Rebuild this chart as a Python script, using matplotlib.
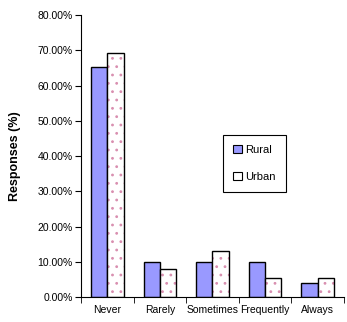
import numpy as np
import matplotlib.pyplot as plt
from matplotlib.ticker import FixedLocator, PercentFormatter

plt.rcParams['font.family'] = ['Liberation Sans', 'DejaVu Sans']
plt.rcParams['hatch.linewidth'] = 0.8

categories = ['Never', 'Rarely', 'Sometimes', 'Frequently', 'Always']
rural = [65.2, 10.0, 10.0, 10.0, 3.9]
urban = [69.3, 7.9, 13.0, 5.3, 5.3]

fig = plt.figure(figsize=(3.47, 3.22), dpi=100)
ax = fig.add_axes([0.2334, 0.0776, 0.7576, 0.8758])

x = np.arange(len(categories))
w = 0.31
ax.bar(x - w / 2, rural, w, color='#9999ff', edgecolor='black', linewidth=1.0, label='Rural')
# dotted fill first (hatch takes the edge colour), then the black outline on top
ax.bar(x + w / 2, urban, w, color='white', edgecolor='#d98fb0', linewidth=0, hatch='..')
ax.bar(x + w / 2, urban, w, fill=False, edgecolor='black', linewidth=1.0)

ax.set_xlim(-0.5, len(categories) - 0.5)
ax.set_ylim(0, 80)
ax.yaxis.set_major_locator(FixedLocator(np.arange(0, 81, 10)))
ax.yaxis.set_major_formatter(PercentFormatter(decimals=2))
ax.set_xticks(x)
ax.set_xticklabels(categories)
ax.xaxis.set_minor_locator(FixedLocator(np.arange(-0.5, len(categories), 1.0)))
ax.tick_params(axis='x', which='major', length=0, labelsize=7.5, pad=6)
ax.tick_params(axis='x', which='minor', length=4, direction='out')
ax.tick_params(axis='y', length=4, labelsize=7.5, pad=2)

ax.spines['top'].set_visible(False)
ax.spines['right'].set_visible(False)

ax.set_ylabel('Responses (%)', fontsize=9, fontweight='bold', labelpad=12)

# legend handles built from the same bar styles
from matplotlib.patches import Patch
handles = [Patch(facecolor='#9999ff', edgecolor='black', linewidth=0.8),
           Patch(facecolor='white', edgecolor='black', linewidth=0.8)]
leg = ax.legend(handles, ['Rural', 'Urban'], loc='upper left',
                bbox_to_anchor=(0.52, 0.595), fontsize=8,
                fancybox=False, edgecolor='black', framealpha=1,
                handlelength=0.8, handleheight=0.8, labelspacing=1.5,
                handletextpad=0.3, borderpad=0.9)
leg.get_frame().set_linewidth(0.8)

fig.savefig('out.png', dpi=100)
